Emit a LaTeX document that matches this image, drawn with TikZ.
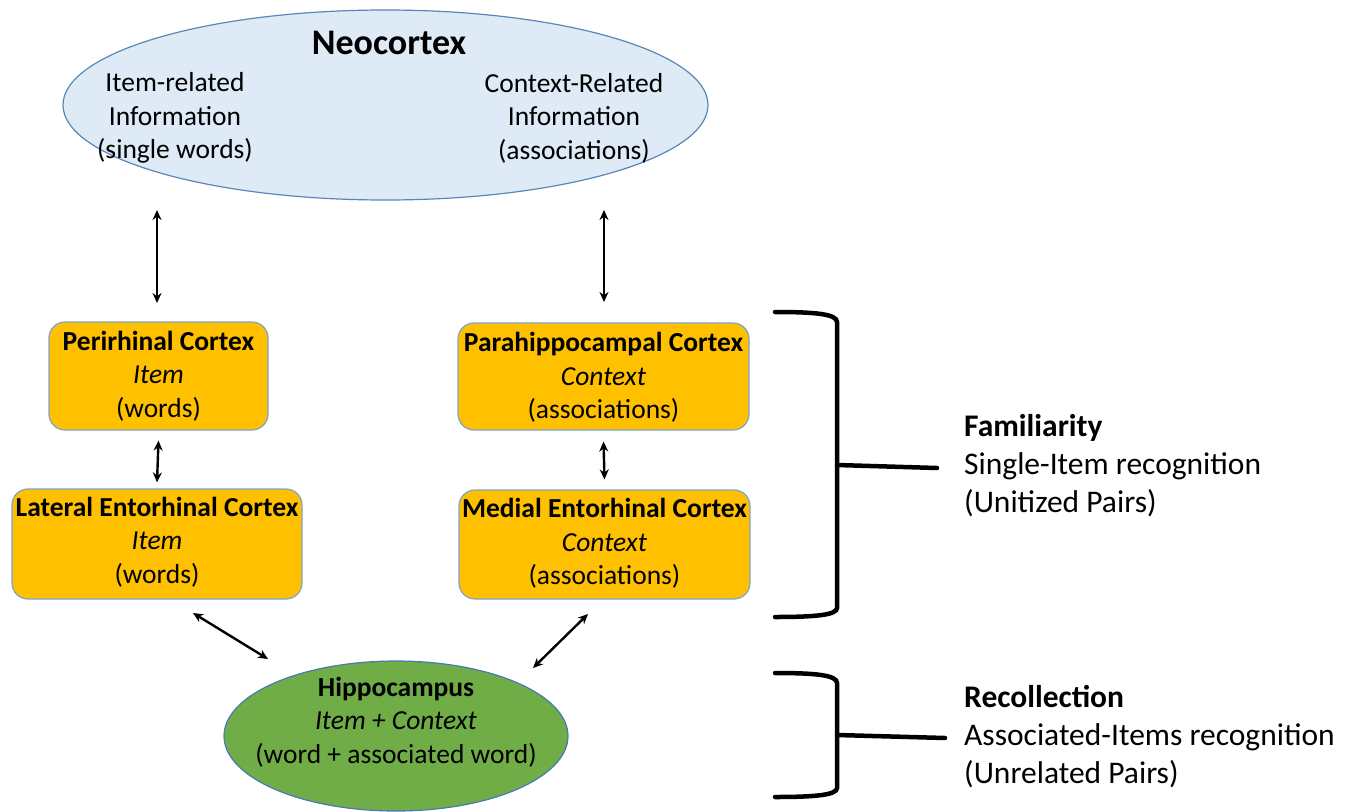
\documentclass[tikz,border=0pt]{standalone}
\usepackage{fontspec}
\setmainfont{Carlito}
\usetikzlibrary{shapes.geometric,arrows.meta,calc}
\definecolor{neofill}{HTML}{DEEBF7}
\definecolor{neoline}{HTML}{5B86B8}
\definecolor{boxfill}{HTML}{FFC000}
\definecolor{boxline}{HTML}{7FA3CF}
\definecolor{hipfill}{HTML}{70AD47}
\definecolor{hipline}{HTML}{4A78B5}
\tikzset{
  txt/.style={font=\fontsize{27.5}{33.5}\selectfont, align=center, inner sep=0pt},
  side/.style={font=\fontsize{31.5}{38}\selectfont, align=left, inner sep=0pt, anchor=west},
  cortexbox/.style={draw=boxline, line width=1.2pt, fill=boxfill, rounded corners=16pt, rectangle, inner sep=0pt},
  dbl/.style={{Stealth[length=10pt,width=9pt]}-{Stealth[length=10pt,width=9pt]}, line width=2.4pt},
  brace/.style={line width=4.5pt, line cap=round}
}
\begin{document}
\begin{tikzpicture}[x=1pt,y=-1pt]
\useasboundingbox (0,0) rectangle (1359,811);
% Neocortex
\node[ellipse, draw=neoline, line width=1.2pt, fill=neofill, minimum width=645pt, minimum height=190pt, inner sep=0pt] (neo) at (385.5,105) {};
\node[inner sep=0pt, font=\fontsize{36}{40}\selectfont\bfseries] (neolab) at (389,43) {Neocortex};
\node[txt] (itemrel) at (175,118) {Item-related\\Information\\(single words)};
\node[txt] (ctxrel) at (574,118) {Context-Related\\Information\\(associations)};
% boxes
\node[cortexbox, minimum width=219pt, minimum height=108pt] (peri) at (158.5,376) {};
\node[txt] at (peri.center) {\textbf{Perirhinal Cortex}\\\textit{Item}\\(words)};
\node[cortexbox, minimum width=290pt, minimum height=110pt] (lat) at (157,544) {};
\node[txt] at ($(lat.center)+(0,-2)$) {\textbf{Lateral Entorhinal Cortex}\\\textit{Item}\\(words)};
\node[cortexbox, minimum width=291pt, minimum height=107pt] (para) at (603.5,376.5) {};
\node[txt] at ($(para.center)+(0,1)$) {\textbf{Parahippocampal Cortex}\\\textit{Context}\\(associations)};
\node[cortexbox, minimum width=291pt, minimum height=109pt] (med) at (604.5,544.5) {};
\node[txt] at ($(med.center)+(0,-1)$) {\textbf{Medial Entorhinal Cortex}\\\textit{Context}\\(associations)};
% Hippocampus
\node[ellipse, draw=hipline, line width=1.2pt, fill=hipfill, minimum width=344pt, minimum height=150pt, inner sep=0pt] (hip) at (396,736) {};
\node[txt] at ($(hip.center)+(0,-14)$) {\textbf{Hippocampus}\\\textit{Item + Context}\\(word + associated word)};
% arrows
\coordinate (a1) at (157,210);
\coordinate (a1e) at (157,303);
\coordinate (a2) at (604,210);
\coordinate (a2e) at (604,302);
\draw[dbl] (a1) -- (a1e);
\draw[dbl] (a2) -- (a2e);
\draw[dbl] ($(peri.south)+(0,10)$) -- ($(lat.north)+(0,-6)$);
\draw[dbl] ($(para.south)+(0,11)$) -- ($(med.north)+(0,-10)$);
\coordinate (d1s) at (193,613);
\coordinate (d1e) at (268,659);
\coordinate (d2s) at (588,614);
\coordinate (d2e) at (533,668);
\draw[dbl] (d1s) -- (d1e);
\draw[dbl] (d2s) -- (d2e);
% brackets
\coordinate (b1t) at (775,312);
\coordinate (b1b) at (775,617);
\coordinate (b1m) at (837,465);
\coordinate (b1x) at (937,468);
\draw[brace] (b1t) .. controls (815,312) and (837,314) .. (837,322) -- (837,608) .. controls (837,615) and (815,617) .. (b1b);
\draw[brace] (b1m) -- (b1x);
\coordinate (b2t) at (775,673);
\coordinate (b2b) at (775,797);
\coordinate (b2m) at (837,735);
\coordinate (b2x) at (945,738);
\draw[brace] (b2t) .. controls (815,673) and (837,675) .. (837,683) -- (837,788) .. controls (837,795) and (815,797) .. (b2b);
\draw[brace] (b2m) -- (b2x);
% side texts
\node[side] (fam) at (964,466) {\textbf{Familiarity}\\Single-Item recognition\\(Unitized Pairs)};
\node[side] (rec) at (964,737) {\textbf{Recollection}\\Associated-Items recognition\\(Unrelated Pairs)};
\end{tikzpicture}
\end{document}
